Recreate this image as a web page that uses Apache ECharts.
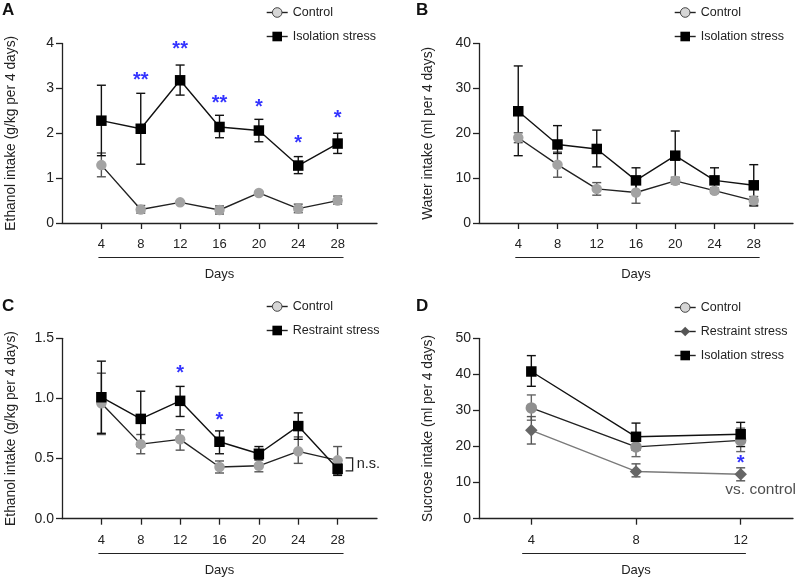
<!DOCTYPE html>
<html>
<head>
<meta charset="utf-8">
<script src="https://cdn.jsdelivr.net/npm/echarts@6/dist/echarts.min.js"></script>
<style>
html,body{margin:0;padding:0;background:#fff;}
#main{width:800px;height:578px;}
</style>
</head>
<body>
<div id="main"></div>
<script>
// ---------- DATA ----------
const days7 = [4, 8, 12, 16, 20, 24, 28];
const days3 = [4, 8, 12];
const tickDays7 = [4, 8, 12, 16, 20, 24, 28];
const tickDays3 = [4, 8, 12];

// Panel A: ethanol intake, isolation stress
const A_control    = [1.29, 0.30, 0.46, 0.29, 0.67, 0.32, 0.50];
const A_control_lo = [1.03, 0.22, 0.44, 0.20, 0.64, 0.23, 0.42];
const A_control_hi = [1.56, 0.39, 0.48, 0.38, 0.70, 0.42, 0.60];
const A_iso        = [2.28, 2.10, 3.18, 2.14, 2.06, 1.28, 1.77];
const A_iso_lo     = [1.50, 1.31, 2.85, 1.90, 1.81, 1.10, 1.55];
const A_iso_hi     = [3.07, 2.89, 3.52, 2.40, 2.31, 1.48, 2.00];
const A_sigDays    = [8, 12, 16, 20, 24, 28];
const A_sigY       = [3.26, 3.95, 2.75, 2.66, 1.86, 2.42];
const A_sigText    = ['**', '**', '**', '*', '*', '*'];

// Panel B: water intake, isolation stress
const B_control    = [19.0, 13.0, 7.6, 6.8, 9.4, 7.2, 5.0];
const B_control_lo = [17.9, 10.2, 6.2, 4.4, 8.7, 6.6, 4.0];
const B_control_hi = [20.1, 15.8, 9.0, 9.2, 10.2, 7.8, 5.9];
const B_iso        = [24.9, 17.5, 16.5, 9.5, 15.0, 9.5, 8.4];
const B_iso_lo     = [15.0, 15.5, 12.5, 7.0, 9.5, 7.0, 3.8];
const B_iso_hi     = [35.0, 21.7, 20.7, 12.3, 20.5, 12.3, 13.0];

// Panel C: ethanol intake, restraint stress
const C_control    = [0.96, 0.62, 0.66, 0.43, 0.44, 0.56, 0.485];
const C_control_lo = [0.70, 0.54, 0.57, 0.38, 0.39, 0.46, 0.37];
const C_control_hi = [1.21, 0.70, 0.74, 0.48, 0.49, 0.68, 0.60];
const C_res        = [1.01, 0.83, 0.98, 0.64, 0.54, 0.77, 0.415];
const C_res_lo     = [0.71, 0.60, 0.85, 0.54, 0.49, 0.66, 0.36];
const C_res_hi     = [1.31, 1.06, 1.10, 0.73, 0.60, 0.88, 0.46];
const C_sigDays    = [12, 16];
const C_sigY       = [1.24, 0.85];
const C_sigText    = ['*', '*'];
const C_nsBracket  = [[28, 0.397, 0.505]];

// Panel D: sucrose intake
const D_control    = [30.7, 19.9, 21.7];
const D_control_lo = [27.3, 17.2, 18.6];
const D_control_hi = [34.3, 23.4, 25.1];
const D_res        = [24.5, 13.1, 12.3];
const D_res_lo     = [20.7, 11.6, 10.5];
const D_res_hi     = [28.3, 15.2, 14.1];
const D_iso        = [40.8, 22.7, 23.4];
const D_iso_lo     = [36.7, 19.0, 20.0];
const D_iso_hi     = [45.2, 26.5, 26.7];
const D_sigDays    = [12];
const D_sigY       = [16.5];
const D_sigText    = ['*'];
const D_noteDays   = [12];
const D_noteY      = [7.9];
const D_noteText   = ['vs. control'];

// ---------- STYLE ----------
const FONT = 'Liberation Sans, Arial, Helvetica, sans-serif';
const TXT = '#222';
const AXC = '#222';
const BLUE = '#0000ff';
const CTRL_FILL = '#a3a3a3';
const RES_FILL = '#666666';

const chart = echarts.init(document.getElementById('main'), null, {renderer: 'canvas'});

const grids = [
  {left: 62,  top: 43.5, width: 315, height: 179.5},
  {left: 479, top: 43.5, width: 314, height: 179.5},
  {left: 62,  top: 338.3, width: 315, height: 180.4},
  {left: 479, top: 338.3, width: 314, height: 180.4}
];

const yAxisDefs = [
  {min: 0, max: 4, interval: 1, name: 'Ethanol intake (g/kg per 4 days)', fmt: v => String(v)},
  {min: 0, max: 40, interval: 10, name: 'Water intake (ml per 4 days)', fmt: v => String(v)},
  {min: 0, max: 1.5, interval: 0.5, name: 'Ethanol intake (g/kg per 4 days)', fmt: v => v.toFixed(1)},
  {min: 0, max: 50, interval: 10, name: 'Sucrose intake (ml per 4 days)', fmt: v => String(v)}
];
const xAxisDefs = [
  {min: 0, max: 32, interval: 4, ticks: tickDays7},
  {min: 0, max: 32, interval: 4, ticks: tickDays7},
  {min: 0, max: 32, interval: 4, ticks: tickDays7},
  {min: 2, max: 14, interval: 2, ticks: tickDays3}
];

const axisLineStyle = {color: AXC, width: 1.3};

const xAxis = xAxisDefs.map((d, i) => ({
  type: 'value', gridIndex: i, min: d.min, max: d.max, interval: d.interval,
  axisLine: {show: true, lineStyle: axisLineStyle, onZero: false},
  axisTick: {show: true, length: 6, lineStyle: axisLineStyle, customValues: d.ticks},
  axisLabel: {show: true, margin: 15, fontSize: 13, color: TXT, fontFamily: FONT, customValues: d.ticks},
  splitLine: {show: false},
  name: 'Days', nameLocation: 'middle', nameGap: 45,
  nameTextStyle: {fontSize: 13, color: TXT, fontFamily: FONT}
}));

const yAxis = yAxisDefs.map((d, i) => ({
  type: 'value', gridIndex: i, min: d.min, max: d.max, interval: d.interval,
  axisLine: {show: true, lineStyle: axisLineStyle},
  axisTick: {show: true, length: 6, lineStyle: axisLineStyle},
  axisLabel: {margin: 8, fontSize: 14, color: TXT, fontFamily: FONT, formatter: d.fmt},
  splitLine: {show: false},
  name: d.name, nameLocation: 'middle', nameGap: 44,
  nameTextStyle: {fontSize: 13.8, color: TXT, fontFamily: FONT}
}));

function zip(xs, ys) { return xs.map((x, k) => [x, ys[k]]); }
function zip3(xs, a, b) { return xs.map((x, k) => [x, a[k], b[k]]); }

function errSeries(gi, xs, lo, hi, color) {
  return {
    type: 'custom', xAxisIndex: gi, yAxisIndex: gi, z: 1, silent: true,
    encode: {x: 0, y: [1, 2]},
    data: zip3(xs, lo, hi),
    renderItem: function (params, api) {
      const x = api.value(0);
      const p1 = api.coord([x, api.value(1)]);
      const p2 = api.coord([x, api.value(2)]);
      const w = 4.5;
      const st = {stroke: color, lineWidth: 1.4};
      return {type: 'group', children: [
        {type: 'line', shape: {x1: p1[0], y1: p1[1], x2: p2[0], y2: p2[1]}, style: st},
        {type: 'line', shape: {x1: p1[0] - w, y1: p1[1], x2: p1[0] + w, y2: p1[1]}, style: st},
        {type: 'line', shape: {x1: p2[0] - w, y1: p2[1], x2: p2[0] + w, y2: p2[1]}, style: st}
      ]};
    }
  };
}

function lineSeries(gi, name, xs, ys, symbol, fill, lineColor, size, z) {
  return {
    type: 'line', name: name, xAxisIndex: gi, yAxisIndex: gi, z: z || 3,
    data: zip(xs, ys), symbol: symbol, symbolSize: size, showSymbol: true,
    itemStyle: {color: fill, borderWidth: 0, opacity: 1},
    lineStyle: {color: lineColor, width: 1.4},
    emphasis: {disabled: true}, animation: false
  };
}

function textSeries(gi, xs, ys, texts, color, fontSize, offset, bold) {
  return {
    type: 'scatter', xAxisIndex: gi, yAxisIndex: gi, z: 5, silent: true,
    data: xs.map((x, k) => [x, ys[k], texts[k]]),
    symbolSize: 1, itemStyle: {color: 'rgba(0,0,0,0)'},
    label: {show: true, position: 'inside', offset: offset, formatter: p => p.value[2],
      color: color, fontSize: fontSize, fontFamily: FONT, fontWeight: bold ? 'bold' : 'normal'},
    animation: false
  };
}

const series = [
  // A
  errSeries(0, days7, A_control_lo, A_control_hi, '#555'),
  errSeries(0, days7, A_iso_lo, A_iso_hi, '#111'),
  lineSeries(0, 'Control', days7, A_control, 'circle', CTRL_FILL, '#222', 10.5, 3),
  lineSeries(0, 'Isolation stress', days7, A_iso, 'rect', '#000', '#111', 10.5, 4),
  textSeries(0, A_sigDays, A_sigY, A_sigText, BLUE, 20, [0, 4], true),
  // B
  errSeries(1, days7, B_control_lo, B_control_hi, '#555'),
  errSeries(1, days7, B_iso_lo, B_iso_hi, '#111'),
  lineSeries(1, 'Control', days7, B_control, 'circle', CTRL_FILL, '#222', 10.5, 3),
  lineSeries(1, 'Isolation stress', days7, B_iso, 'rect', '#000', '#111', 10.5, 4),
  // C
  errSeries(2, days7, C_control_lo, C_control_hi, '#555'),
  errSeries(2, days7, C_res_lo, C_res_hi, '#111'),
  lineSeries(2, 'Control', days7, C_control, 'circle', CTRL_FILL, '#222', 10.5, 3),
  lineSeries(2, 'Restraint stress ', days7, C_res, 'rect', '#000', '#111', 10.5, 4),
  textSeries(2, C_sigDays, C_sigY, C_sigText, BLUE, 20, [0, 4], true),
  {
    type: 'custom', xAxisIndex: 2, yAxisIndex: 2, z: 5, silent: true,
    encode: {x: 0, y: [1, 2]}, data: C_nsBracket,
    renderItem: function (params, api) {
      const x = api.value(0);
      const pLo = api.coord([x, api.value(1)]);
      const pHi = api.coord([x, api.value(2)]);
      const xr = pLo[0] + 15, xl = pLo[0] + 8;
      const st = {stroke: '#222', lineWidth: 1.3, fill: null};
      return {type: 'group', children: [
        {type: 'polyline', shape: {points: [[xl, pHi[1]], [xr, pHi[1]], [xr, pLo[1]], [xl, pLo[1]]]}, style: st},
        {type: 'text', style: {text: 'n.s.', x: xr + 4, y: (pHi[1] + pLo[1]) / 2, verticalAlign: 'middle',
          font: '14.5px ' + FONT, fill: TXT}}
      ]};
    }
  },
  // D
  errSeries(3, days3, D_control_lo, D_control_hi, '#666'),
  errSeries(3, days3, D_res_lo, D_res_hi, '#555'),
  errSeries(3, days3, D_iso_lo, D_iso_hi, '#111'),
  lineSeries(3, 'Control', days3, D_control, 'circle', '#8f8f8f', '#222', 11.5, 3),
  lineSeries(3, 'Restraint stress', days3, D_res, 'diamond', RES_FILL, '#7a7a7a', 12.5, 3),
  lineSeries(3, 'Isolation stress', days3, D_iso, 'rect', '#000', '#111', 10.5, 4),
  textSeries(3, D_sigDays, D_sigY, D_sigText, BLUE, 20, [0, 4], true),
  textSeries(3, D_noteDays, D_noteY, D_noteText, TXT, 15.5, [20, 0], false)
];

const ctrlLegendItem = name => ({name: name, itemStyle: {color: '#d6d6d6', borderColor: '#444', borderWidth: 1}, lineStyle: {color: '#222', width: 1.4}});
const blackItem = name => ({name: name, itemStyle: {color: '#000'}, lineStyle: {color: '#222', width: 1.4}});
const resItem = name => ({name: name, itemStyle: {color: '#555'}, lineStyle: {color: '#222', width: 1.4}});

function legend(left, top, items) {
  return {
    left: left, top: top, orient: 'vertical', itemWidth: 21, itemHeight: 12, itemGap: 11,
    padding: 0, selectedMode: false,
    textStyle: {fontSize: 12.5, color: TXT, fontFamily: FONT, padding: [0, 0, 0, 0]},
    data: items
  };
}

const option = {
  animation: false,
  backgroundColor: '#fff',
  grid: grids,
  xAxis: xAxis,
  yAxis: yAxis,
  title: [
    {text: 'A', left: 2, top: 2},
    {text: 'B', left: 416, top: 2},
    {text: 'C', left: 2, top: 298},
    {text: 'D', left: 416, top: 298}
  ].map(t => Object.assign(t, {padding: 0, textStyle: {fontSize: 17, fontWeight: 'bold', color: '#111', fontFamily: FONT}})),
  legend: [
    legend(266, 6, [ctrlLegendItem('Control'), blackItem('Isolation stress')]),
    legend(674, 6, [ctrlLegendItem('Control'), blackItem('Isolation stress')]),
    legend(266, 300, [ctrlLegendItem('Control'), blackItem('Restraint stress ')]),
    legend(674, 301, [ctrlLegendItem('Control'), resItem('Restraint stress'), blackItem('Isolation stress')])
  ],
  series: series
};
chart.setOption(option);

// "Days" bracket lines under the x tick labels, positioned through the axes
const dayLineRanges = [[3.7, 28.6], [3.7, 28.6], [3.7, 28.6], [3.65, 12.2]];
const graphics = dayLineRanges.map((r, i) => {
  const x1 = chart.convertToPixel({xAxisIndex: i}, r[0]);
  const x2 = chart.convertToPixel({xAxisIndex: i}, r[1]);
  const y0 = chart.convertToPixel({yAxisIndex: i}, yAxisDefs[i].min);
  const y = Math.round(y0 + 34) + 0.5;
  return {type: 'line', shape: {x1: x1, y1: y, x2: x2, y2: y}, style: {stroke: '#222', lineWidth: 1.2}, silent: true};
});
chart.setOption({graphic: graphics});
</script>
</body>
</html>
